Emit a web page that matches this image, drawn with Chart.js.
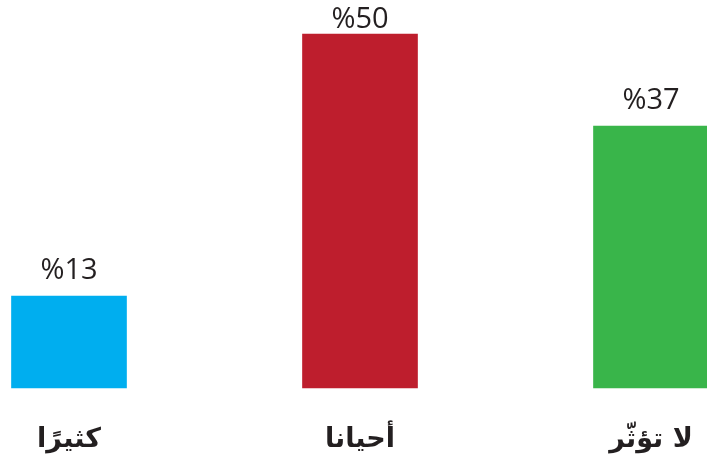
<!DOCTYPE html>
<html>
<head>
<meta charset="utf-8">
<script src="https://cdn.jsdelivr.net/npm/chart.js@4/dist/chart.umd.min.js"></script>
<style>
html,body{margin:0;padding:0;background:#fff;}
#wrap{width:707px;height:469px;}
</style>
</head>
<body>
<div id="wrap"><canvas id="c" width="707" height="469"></canvas></div>
<script>
const categories = ["كثيرًا", "أحيانا", "لا تؤثّر"];
const values = [13, 50, 37];
const valueLabels = ["%13", "%50", "%37"];
const barColors = ["#00aeef", "#be1e2d", "#39b54a"];

const valueLabelPlugin = {
  id: 'valueLabels',
  afterDatasetsDraw(chart) {
    const ctx = chart.ctx;
    const meta = chart.getDatasetMeta(0);
    ctx.save();
    ctx.font = '29px "Open Sans", sans-serif';
    ctx.fillStyle = '#231f20';
    ctx.textAlign = 'center';
    ctx.textBaseline = 'alphabetic';
    meta.data.forEach((bar, i) => {
      const y = Math.max(28, bar.y - 17);
      ctx.fillText(valueLabels[i], bar.x, y);
    });
    ctx.restore();
  }
};

new Chart(document.getElementById('c'), {
  type: 'bar',
  data: {
    labels: categories,
    datasets: [{
      data: values,
      backgroundColor: barColors,
      borderWidth: 0,
      barThickness: 115,
      clip: false
    }]
  },
  options: {
    responsive: false,
    animation: false,
    layout: { padding: { left: 69, right: 56, top: 34, bottom: 0 } },
    plugins: { legend: { display: false }, tooltip: { enabled: false } },
    scales: {
      x: {
        offset: false,
        grid: { display: false, drawTicks: false },
        border: { display: false },
        afterFit(scale) {
          scale.paddingLeft = 0;
          scale.paddingRight = 0;
          scale.height = 81;
        },
        ticks: {
          padding: 36,
          color: '#231f20',
          font: { family: '"DejaVu Sans", sans-serif', size: 27, weight: 'bold' },
          maxRotation: 0,
          autoSkip: false
        }
      },
      y: {
        display: false,
        min: 0,
        max: 50
      }
    }
  },
  plugins: [valueLabelPlugin]
});
</script>
</body>
</html>
